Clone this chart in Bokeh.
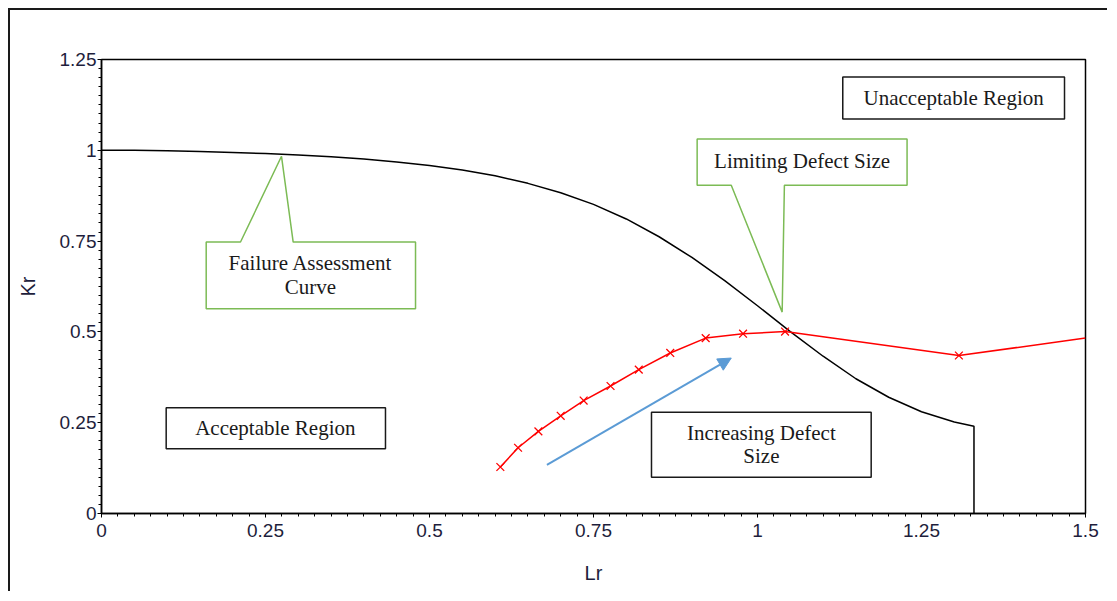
from bokeh.plotting import figure
from bokeh.layouts import column
from bokeh.models import Range1d, FixedTicker, Label, Arrow, NormalHead
from bokeh.embed import file_html
from bokeh.resources import INLINE

# ---------------- data ----------------
fac_lr = [0, 0.05, 0.1, 0.15, 0.2, 0.25, 0.3, 0.35, 0.4, 0.45, 0.5, 0.55, 0.6, 0.65,
          0.7, 0.75, 0.8, 0.85, 0.9, 0.95, 1.0, 1.05, 1.1, 1.15, 1.2, 1.25, 1.3, 1.33, 1.33]
fac_kr = [1.0, 1.0, 0.999, 0.997, 0.994, 0.991, 0.987, 0.982, 0.976, 0.968, 0.958, 0.946,
          0.930, 0.909, 0.883, 0.851, 0.811, 0.762, 0.705, 0.641, 0.572, 0.501, 0.433,
          0.371, 0.320, 0.280, 0.252, 0.240, 0.0]

defect_lr = [0.608, 0.635, 0.666, 0.700, 0.735, 0.776, 0.819, 0.867, 0.921, 0.978, 1.042, 1.307, 1.5]
defect_kr = [0.128, 0.181, 0.226, 0.269, 0.311, 0.351, 0.396, 0.442, 0.483, 0.495, 0.501, 0.435, 0.483]

x_ticks = [0, 0.25, 0.5, 0.75, 1.0, 1.25, 1.5]
x_tick_labels = ["0", "0.25", "0.5", "0.75", "1", "1.25", "1.5"]
y_ticks = [0, 0.25, 0.5, 0.75, 1.0, 1.25]
y_tick_labels = ["0", "0.25", "0.5", "0.75", "1", "1.25"]

x_title = "Lr"
y_title = "Kr"

# ---------------- figure ----------------
p = figure(width=1099, height=583, x_range=Range1d(0, 1.5), y_range=Range1d(0, 1.25),
           output_backend="svg", toolbar_location=None,
           min_border_left=91, min_border_top=49, min_border_right=24, min_border_bottom=80)
p.styles = {"border-left": "2px solid #1a1a1a", "border-top": "2px solid #1a1a1a"}
p.background_fill_color = "white"
p.border_fill_color = "white"
p.outline_line_color = "black"
p.outline_line_width = 1.5
p.xgrid.visible = False
p.ygrid.visible = False

minor_x = [round(i * 0.025, 4) for i in range(0, 61)]
minor_y = [round(i * 0.025, 4) for i in range(0, 51)]
p.xaxis.ticker = FixedTicker(ticks=x_ticks, minor_ticks=minor_x)
p.yaxis.ticker = FixedTicker(ticks=y_ticks, minor_ticks=minor_y)
p.xaxis.major_label_overrides = {t: l for t, l in zip(x_ticks, x_tick_labels)}
p.yaxis.major_label_overrides = {t: l for t, l in zip(y_ticks, y_tick_labels)}

for ax in (p.xaxis, p.yaxis):
    ax.axis_line_color = "black"
    ax.axis_line_width = 1.5
    ax.major_tick_line_color = "black"
    ax.minor_tick_line_color = "black"
    ax.major_tick_in = 0
    ax.minor_tick_in = 0
    ax.major_tick_out = 4
    ax.minor_tick_out = 3
    ax.major_label_text_font = "Liberation Sans"
    ax.major_label_text_font_size = "19px"
    ax.major_label_text_color = "#1e1e3c"
    ax.axis_label_text_font = "Liberation Sans"
    ax.axis_label_text_font_size = "20px"
    ax.axis_label_text_font_style = "normal"
    ax.axis_label_text_color = "#1e1e3c"

p.xaxis.major_label_standoff = 6
p.yaxis.major_label_standoff = 1
p.xaxis.axis_label = x_title
p.yaxis.axis_label = y_title
p.xaxis.axis_label_standoff = 22
p.yaxis.axis_label_standoff = 18

# ---------------- curves ----------------
p.line(fac_lr, fac_kr, line_color="black", line_width=1.5)
p.line(defect_lr, defect_kr, line_color="red", line_width=1.5)
p.scatter(defect_lr[:-1], defect_kr[:-1], marker="x", size=11, line_color="red", line_width=1.3)

# blue arrow
p.add_layout(Arrow(x_start=0.679, y_start=0.134, x_end=0.960, y_end=0.428,
                   line_color="#5b9bd5", line_width=2,
                   end=NormalHead(size=13, fill_color="#5b9bd5", line_color="#5b9bd5")))

# ---------------- annotation boxes ----------------
GREEN = "#7cbb55"
SERIF = "Liberation Serif"
FS = "21px"

def plain_box(x0, x1, y0, y1):
    p.quad(left=[x0], right=[x1], bottom=[y0], top=[y1], fill_color="white",
           line_color="#1a1a1a", line_width=1.5)

def text(x, y, s):
    p.add_layout(Label(x=x, y=y, text=s, text_font=SERIF, text_font_size=FS,
                       text_align="center", text_baseline="middle", text_color="#1a1a1a"))

# Unacceptable Region
plain_box(1.130, 1.468, 1.086, 1.202)
text(1.299, 1.144, "Unacceptable Region")

# Acceptable Region
plain_box(0.0986, 0.4329, 0.178, 0.291)
text(0.265, 0.2355, "Acceptable Region")

# Increasing Defect Size
plain_box(0.8384, 1.1733, 0.100, 0.279)
text(1.006, 0.2204, "Increasing Defect")
text(1.006, 0.157, "Size")

# Limiting Defect Size callout (pointer below)
lx0, lx1, ly0, ly1 = 0.908, 1.228, 0.9036, 1.0311
p.patch([lx0, lx1, lx1, 1.041, 1.0376, 0.960, lx0],
        [ly1, ly1, ly0, ly0, 0.5545, ly0, ly0],
        fill_color="white", line_color=GREEN, line_width=1.5)
text(1.068, 0.970, "Limiting Defect Size")

# Failure Assessment Curve callout (pointer above)
fx0, fx1, fy0, fy1 = 0.1596, 0.4787, 0.5639, 0.7474
p.patch([fx0, 0.2119, 0.2744, 0.2922, fx1, fx1, fx0],
        [fy1, fy1, 0.9835, fy1, fy1, fy0, fy0],
        fill_color="white", line_color=GREEN, line_width=1.5)
text(0.3186, 0.689, "Failure Assessment")
text(0.3186, 0.625, "Curve")

root = column(p, styles={"padding-left": "8px", "padding-top": "8px", "background-color": "white"})

open("out.html", "w").write(file_html(root, INLINE))
